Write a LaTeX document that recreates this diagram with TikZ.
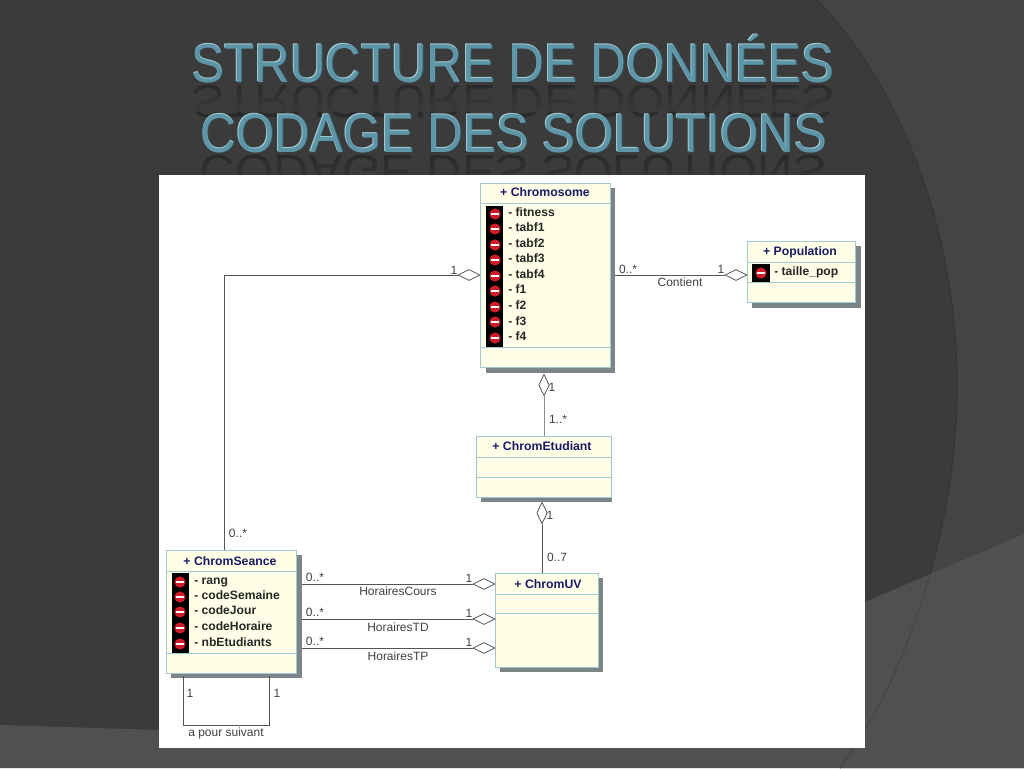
\documentclass[tikz,border=0pt]{standalone}
\usepackage{fontspec}
\setmainfont{Liberation Sans}
\usetikzlibrary{shapes.geometric,fadings}
\definecolor{bgdark}{HTML}{3B3B3B}
\definecolor{bgmid}{HTML}{444444}
\definecolor{bglight}{HTML}{505050}
\definecolor{arcdark}{HTML}{363636}
\definecolor{arclight}{HTML}{464646}
\definecolor{cream}{HTML}{FFFFE8}
\definecolor{edgeblue}{HTML}{A0CAD2}
\definecolor{shade}{HTML}{7C8488}
\definecolor{navy}{HTML}{1A1A66}
\definecolor{teal}{HTML}{5E96A8}
\definecolor{tealhi}{HTML}{A4CCD6}
\definecolor{tealdk}{HTML}{2F5866}
\definecolor{reflect}{HTML}{2A2A2A}
\definecolor{linegrey}{HTML}{555555}
\definecolor{stopred}{HTML}{D01C28}
\tikzset{
  x=0.75pt,y=-0.75pt,
  classbox/.style={draw=edgeblue,fill=cream,line width=0.8pt,inner sep=0pt,anchor=north west},
  shadowbox/.style={fill=shade},
  sep/.style={draw=edgeblue,line width=0.7pt},
  conn/.style={draw=linegrey,line width=0.7pt},
  agg/.style={diamond,draw=linegrey,fill=white,line width=0.6pt,inner sep=0pt,aspect=2,minimum width=16.5pt,minimum height=8.25pt},
  aggv/.style={diamond,draw=linegrey,fill=white,line width=0.6pt,inner sep=0pt,aspect=0.5,minimum width=8pt,minimum height=16pt},
  head/.style={font=\fontsize{9.2pt}{10pt}\selectfont\bfseries,text=navy,inner sep=0pt},
  attr/.style={font=\fontsize{9.1pt}{10pt}\selectfont\bfseries,text=black!85,anchor=west,inner sep=0pt,text height=6.5pt,text depth=2pt},
  lab/.style={font=\fontsize{9pt}{10pt}\selectfont,text=black!75,inner sep=0pt},
  titletext/.style={font=\fontsize{41pt}{41pt}\selectfont,inner sep=0pt,anchor=base,xscale=0.9}
}
\newcommand{\stopicon}[2]{%
  \fill[stopred] (#1,#2) circle (4.2pt);
  \fill[white] (#1-4,#2-1.1) rectangle (#1+4,#2+1.1);
}
\newcommand{\bevelled}[4]{% name, x, baseline, text
  \node[titletext,text=tealdk] (#1d) at (#2+0.8,#3+0.8) {#4};
  \node[titletext,text=tealhi] (#1h) at (#2-0.8,#3-0.8) {#4};
  \node[titletext,text=teal] (#1) at (#2,#3) {#4};
}
\begin{document}
\begin{tikzpicture}
\useasboundingbox (0,0) rectangle (1024,768);
% background
\fill[bgdark] (0,0) rectangle (1024,768);
\fill[bgmid] (817,0) .. controls (900,85) and (957,230) .. (957,385) .. controls (957,530) and (905,680) .. (840,768) -- (1024,768) -- (1024,0) -- cycle;
\draw[arcdark,line width=1pt] (817,0) .. controls (900,85) and (957,230) .. (957,385) .. controls (957,530) and (905,680) .. (840,768);
\fill[bglight] (1024,534) -- (865,602) -- (500,720) -- (159,730) -- (0,725) -- (0,768) -- (1024,768) -- cycle;
\begin{scope}
\clip (1024,534) -- (865,602) -- (500,720) -- (500,768) -- (1024,768) -- cycle;
\draw[arclight,line width=1pt] (817,0) .. controls (900,85) and (957,230) .. (957,385) .. controls (957,530) and (905,680) .. (840,768);
\end{scope}
% title reflections
\node[titletext,text=reflect,yscale=-0.85] (t1r) at (513,85) {STRUCTURE DE DONNÉES};
\fill[bgdark,path fading=north] (180,84) rectangle (850,112);
\node[titletext,text=reflect,yscale=-0.85] (t2r) at (513,155) {CODAGE DES SOLUTIONS};
\fill[bgdark,path fading=north] (180,154) rectangle (850,192);
% title
\bevelled{t1}{513}{82}{STRUCTURE DE DONNÉES}
\bevelled{t2}{514}{152}{CODAGE DES SOLUTIONS}
% white panel
\fill[white] (159,175) rectangle (865,748);
% free corners of connectors
\coordinate (jcs) at (224,550);
\coordinate (jcorner) at (224,275);
\coordinate (ls1) at (183,676);
\coordinate (ls2) at (269,676);
\coordinate (lc1) at (183,725);
\coordinate (lc2) at (269,725);
\coordinate (e1) at (615,275);
\coordinate (e2) at (544,436);
\coordinate (e3) at (542,573);
\coordinate (e4) at (302,584);
\coordinate (e5) at (302,619);
\coordinate (e6) at (302,648);
% shadows
\fill[shadowbox] (486,188) rectangle (615,373);
\fill[shadowbox] (752,246) rectangle (861,308);
\fill[shadowbox] (481,441) rectangle (612,502);
\fill[shadowbox] (171,555) rectangle (302,678);
\fill[shadowbox] (500,578) rectangle (603,672);
% boxes
\node[classbox,minimum width=97.5pt,minimum height=138pt] (chromosome) at (480,183) {};
\node[classbox,minimum width=81pt,minimum height=46pt] (population) at (747,241) {};
\node[classbox,minimum width=101pt,minimum height=45.75pt] (etudiant) at (476,436) {};
\node[classbox,minimum width=98pt,minimum height=92.25pt] (seance) at (165.5,550) {};
\node[classbox,minimum width=77pt,minimum height=70.5pt] (uv) at (495,573) {};
% separators
\draw[sep] (480,203) -- (610,203);
\draw[sep] (480,347) -- (610,347);
\draw[sep] (747,262) -- (855,262);
\draw[sep] (747,282) -- (855,282);
\draw[sep] (476,457) -- (611,457);
\draw[sep] (476,477) -- (611,477);
\draw[sep] (165.5,571) -- (296,571);
\draw[sep] (165.5,653) -- (296,653);
\draw[sep] (495,594) -- (598,594);
\draw[sep] (495,613) -- (598,613);
% heads
\node[head] (hchromo) at (545,192) {+ Chromosome};
\node[head] (hpop) at (800,252) {+ Population};
\node[head] (hetu) at (542,446) {+ ChromEtudiant};
\node[head] (hsea) at (230,561) {+ ChromSeance};
\node[head] (huv) at (548,584) {+ ChromUV};
% attribute icon strips
\fill[black] (486,206) rectangle (503,347);
\fill[black] (752,264) rectangle (770,282);
\fill[black] (172,573) rectangle (189,653);
\foreach \y in {214,229,245,260,276,291,307,322,338} {\stopicon{495}{\y}}
\stopicon{761}{273}
\foreach \y in {582,597,612,628,644} {\stopicon{180}{\y}}
% attributes
\node[attr] (a1) at (508,213) {- fitness};
\node[attr] (a2) at (508,228) {- tabf1};
\node[attr] (a3) at (508,244) {- tabf2};
\node[attr] (a4) at (508,259) {- tabf3};
\node[attr] (a5) at (508,275) {- tabf4};
\node[attr] (a6) at (508,290) {- f1};
\node[attr] (a7) at (508,306) {- f2};
\node[attr] (a8) at (508,322) {- f3};
\node[attr] (a9) at (508,337) {- f4};
\node[attr] (p1) at (774,272) {- taille\_pop};
\node[attr] (s1) at (194,581) {- rang};
\node[attr] (s2) at (194,596) {- codeSemaine};
\node[attr] (s3) at (194,611) {- codeJour};
\node[attr] (s4) at (194,627) {- codeHoraire};
\node[attr] (s5) at (194,643) {- nbEtudiants};
% aggregation diamonds
\node[agg] (d1) at (469,275) {};
\node[agg] (d2) at (736,275) {};
\node[aggv] (d3) at (544,385) {};
\node[aggv] (d4) at (542,513) {};
\node[agg] (d5) at (484,584) {};
\node[agg] (d6) at (484,619) {};
\node[agg] (d7) at (484,648) {};
% connector lines
\draw[conn] (d1.west) -- (jcorner) -- (jcs);
\draw[conn] (e1) -- (d2.west);
\draw[conn,draw=black!45] (d3.south) -- (e2);
\draw[conn] (d4.south) -- (e3);
\draw[conn] (e4) -- (d5.west);
\draw[conn] (e5) -- (d6.west);
\draw[conn] (e6) -- (d7.west);
\draw[conn] (ls1) -- (lc1) -- (lc2) -- (ls2);
% multiplicities
\node[lab] (m1) at (454,270) {1};
\node[lab] (m2) at (628,269) {0..*};
\node[lab] (m3) at (721,269) {1};
\node[lab] (m4) at (680,282) {Contient};
\node[lab] (m5) at (552,387) {1};
\node[lab] (m6) at (558,419) {1..*};
\node[lab] (m7) at (550,515) {1};
\node[lab] (m8) at (557,557) {0..7};
\node[lab] (m9) at (238,533) {0..*};
\node[lab] (m10) at (315,577) {0..*};
\node[lab] (m11) at (469,578) {1};
\node[lab] (m12) at (398,591) {HorairesCours};
\node[lab] (m13) at (315,612) {0..*};
\node[lab] (m14) at (469,613) {1};
\node[lab] (m15) at (398,627) {HorairesTD};
\node[lab] (m16) at (315,641) {0..*};
\node[lab] (m17) at (469,642) {1};
\node[lab] (m18) at (398,656) {HorairesTP};
\node[lab] (m19) at (190,693) {1};
\node[lab] (m20) at (277,693) {1};
\node[lab] (m21) at (226,733) {a pour suivant};
\end{tikzpicture}
\end{document}
